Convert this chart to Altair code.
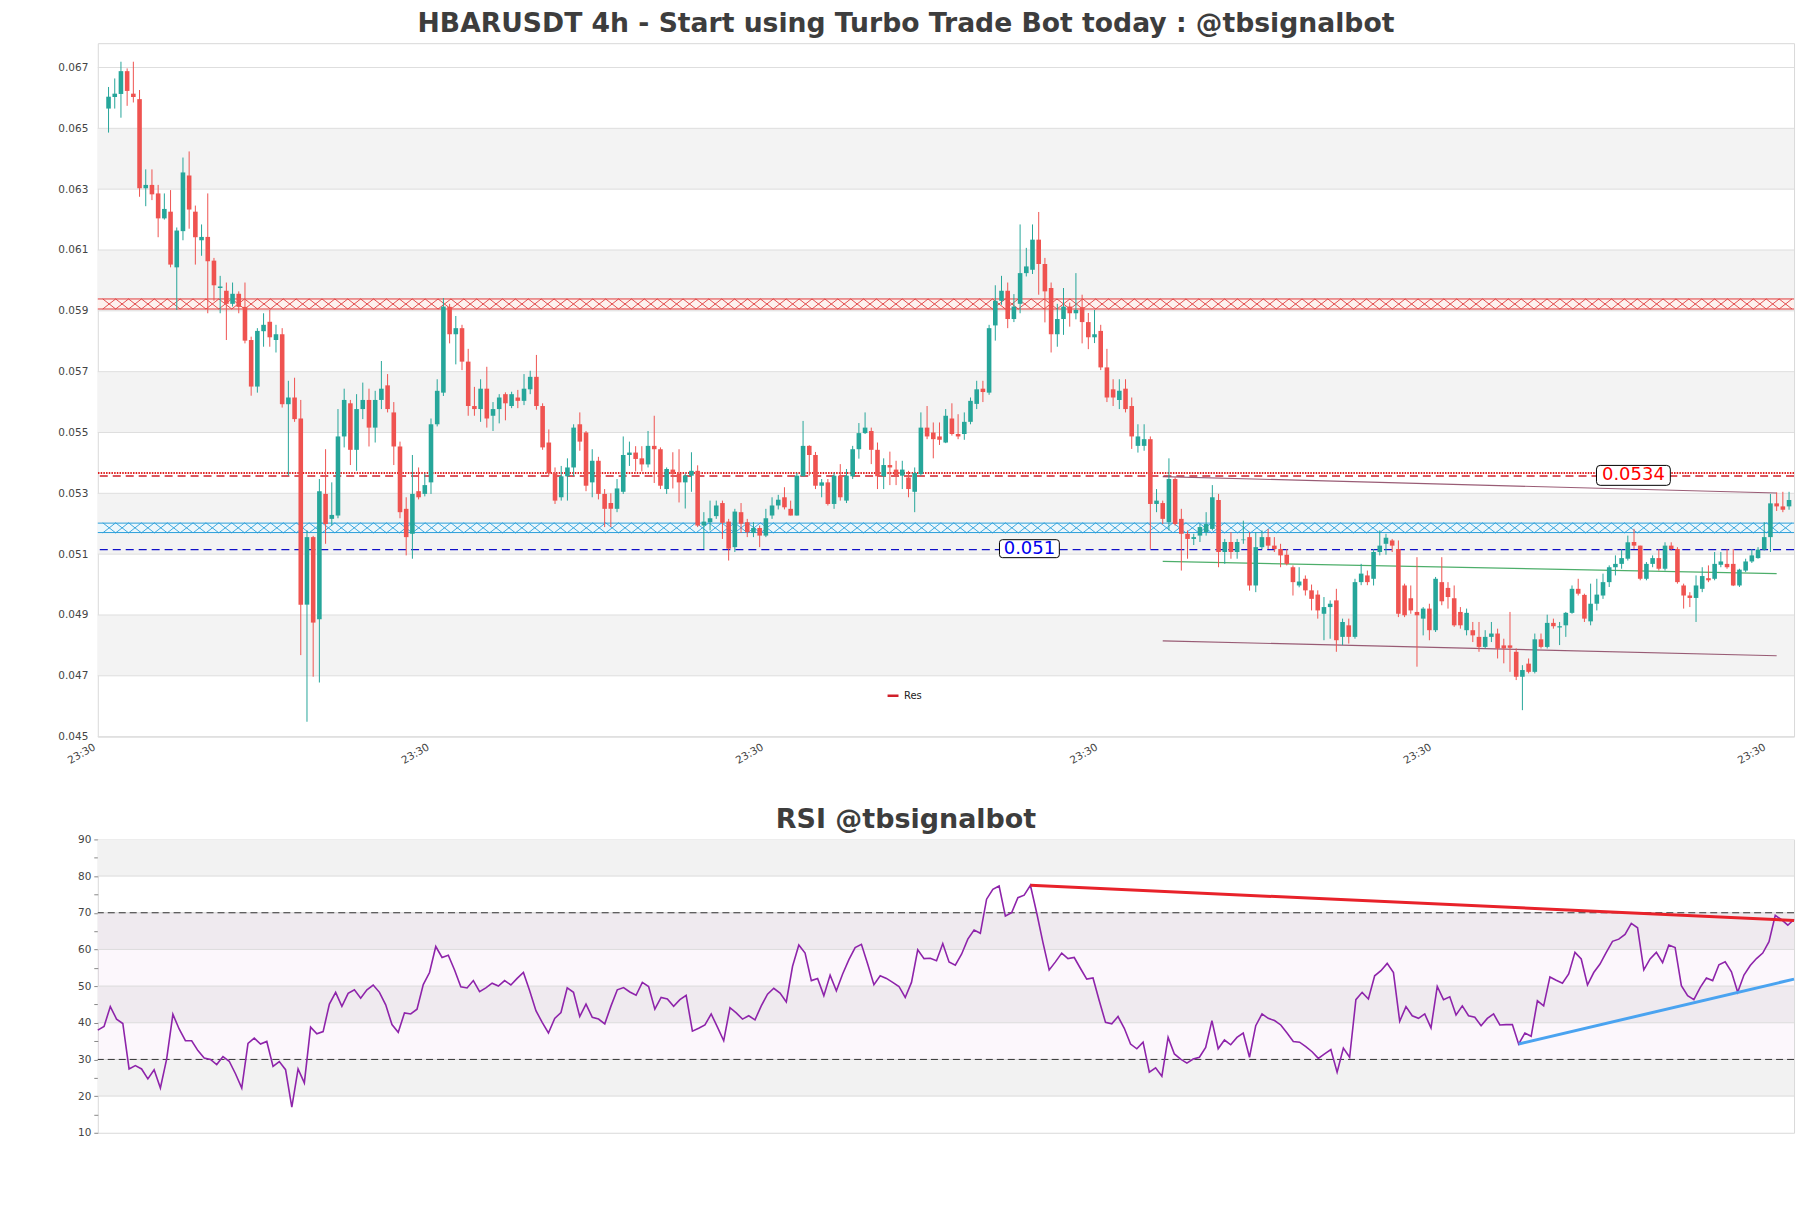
import altair as alt
import pandas as pd
import numpy as np

TITLE = "HBARUSDT 4h - Start using Turbo Trade Bot today : @tbsignalbot"
RSI_TITLE = "RSI @tbsignalbot"

opens = [
0.06565,0.06603,0.06613,0.06688,0.06614,0.06596,0.06303,0.06314,0.06286,0.06204,
0.06226,0.06043,0.06162,0.06345,0.06226,0.06132,0.06143,0.06065,0.05975,0.05966,
0.05923,0.05956,0.05913,0.05804,0.05651,0.05833,0.05864,0.05804,0.05823,0.05593,
0.05615,0.05546,0.04934,0.05156,0.04886,0.05298,0.05216,0.05227,0.05487,0.05596,
0.05443,0.05577,0.05607,0.05516,0.05607,0.05655,0.05566,0.05454,0.05249,0.05167,
0.05307,0.05298,0.05336,0.05527,0.05631,0.05913,0.05823,0.05843,0.05733,0.05587,
0.05577,0.05644,0.05555,0.05577,0.05626,0.05587,0.05615,0.05604,0.05642,0.05683,
0.05587,0.05467,0.05366,0.05287,0.05356,0.05385,0.05527,0.05500,0.05336,0.05407,
0.05298,0.05268,0.05249,0.05305,0.05426,0.05434,0.05415,0.05395,0.05456,0.05445,
0.05314,0.05378,0.05365,0.05336,0.05358,0.05374,0.05194,0.05205,0.05225,0.05268,
0.05207,0.05123,0.05238,0.05205,0.05170,0.05186,0.05161,0.05227,0.05260,0.05287,
0.05249,0.05227,0.05356,0.05456,0.05426,0.05325,0.05336,0.05265,0.05358,0.05276,
0.05356,0.05445,0.05498,0.05505,0.05443,0.05356,0.05393,0.05378,0.05358,0.05352,
0.05305,0.05363,0.05516,0.05500,0.05487,0.05467,0.05546,0.05495,0.05495,0.05535,
0.05594,0.05644,0.05631,0.05852,0.05933,0.05966,0.05873,0.05923,0.06024,0.06035,
0.06134,0.06054,0.05975,0.05823,0.05873,0.05914,0.05892,0.05912,0.05863,0.05813,
0.05834,0.05714,0.05642,0.05607,0.05644,0.05587,0.05456,0.05456,0.05478,0.05265,
0.05268,0.05205,0.05347,0.05216,0.05167,0.05150,0.05161,0.05172,0.05183,0.05278,
0.05107,0.05140,0.05107,0.05146,0.05156,0.04997,0.05123,0.05156,0.05128,0.05117,
0.05098,0.05057,0.04997,0.05019,0.04981,0.04967,0.04904,0.04926,0.04948,0.04828,
0.04866,0.04828,0.05008,0.05030,0.05019,0.05107,0.05134,0.05145,0.05117,0.04997,
0.04955,0.04910,0.04888,0.04921,0.04850,0.05008,0.04989,0.04955,0.04910,0.04850,
0.04850,0.04828,0.04795,0.04828,0.04839,0.04800,0.04800,0.04779,0.04697,0.04740,
0.04713,0.04820,0.04795,0.04874,0.04859,0.04866,0.04907,0.04986,0.04966,0.04879,
0.04937,0.04964,0.05008,0.05057,0.05068,0.05085,0.05140,0.05128,0.05019,0.05068,
0.05087,0.05052,0.05128,0.05117,0.04997,0.04964,0.04956,0.04986,0.05021,0.05019,
0.05065,0.05068,0.05068,0.04997,0.05046,0.05076,0.05087,0.05115,0.05156,0.05267,
0.05257,0.05257]

highs = [
0.06636,0.06664,0.06719,0.06697,0.06719,0.06626,0.06365,0.06365,0.06314,0.06286,
0.06297,0.06174,0.06404,0.06424,0.06246,0.06184,0.06286,0.06074,0.06015,0.05993,
0.05993,0.05964,0.05993,0.05815,0.05843,0.05892,0.05903,0.05854,0.05843,0.05670,
0.05680,0.05607,0.05178,0.05160,0.05347,0.05445,0.05336,0.05577,0.05644,0.05607,
0.05626,0.05664,0.05644,0.05637,0.05735,0.05692,0.05600,0.05470,0.05287,0.05426,
0.05385,0.05365,0.05546,0.05675,0.05942,0.05923,0.05883,0.05854,0.05775,0.05650,
0.05675,0.05716,0.05600,0.05626,0.05632,0.05634,0.05640,0.05692,0.05703,0.05755,
0.05596,0.05510,0.05385,0.05390,0.05415,0.05527,0.05566,0.05505,0.05445,0.05420,
0.05314,0.05300,0.05347,0.05487,0.05470,0.05455,0.05455,0.05505,0.05555,0.05451,
0.05385,0.05435,0.05445,0.05365,0.05435,0.05392,0.05238,0.05276,0.05276,0.05276,
0.05216,0.05249,0.05268,0.05216,0.05205,0.05194,0.05249,0.05287,0.05295,0.05320,
0.05276,0.05367,0.05538,0.05458,0.05436,0.05347,0.05347,0.05367,0.05396,0.05380,
0.05456,0.05531,0.05566,0.05516,0.05467,0.05415,0.05437,0.05407,0.05407,0.05374,
0.05385,0.05566,0.05587,0.05533,0.05533,0.05577,0.05596,0.05560,0.05566,0.05615,
0.05670,0.05670,0.05854,0.05984,0.06015,0.05993,0.05955,0.06184,0.06107,0.06184,
0.06225,0.06074,0.05993,0.05923,0.05975,0.05927,0.06024,0.05953,0.05893,0.05903,
0.05854,0.05775,0.05675,0.05675,0.05675,0.05615,0.05527,0.05527,0.05487,0.05314,
0.05276,0.05415,0.05352,0.05249,0.05178,0.05167,0.05200,0.05238,0.05327,0.05298,
0.05150,0.05172,0.05150,0.05210,0.05172,0.05172,0.05178,0.05183,0.05156,0.05134,
0.05117,0.05063,0.05057,0.05030,0.05000,0.04981,0.04959,0.04948,0.04986,0.04888,
0.04888,0.05019,0.05068,0.05046,0.05117,0.05178,0.05167,0.05150,0.05145,0.05003,
0.04997,0.05090,0.04926,0.04937,0.05025,0.05090,0.05008,0.04997,0.04926,0.04921,
0.04877,0.04877,0.04850,0.04877,0.04855,0.04822,0.04910,0.04790,0.04735,0.04757,
0.04839,0.04839,0.04901,0.04888,0.04877,0.04910,0.04997,0.05019,0.04970,0.05003,
0.05019,0.05036,0.05063,0.05096,0.05117,0.05161,0.05183,0.05128,0.05074,0.05096,
0.05117,0.05139,0.05139,0.05123,0.05003,0.04975,0.05030,0.05057,0.05063,0.05107,
0.05107,0.05117,0.05117,0.05052,0.05085,0.05117,0.05123,0.05205,0.05298,0.05303,
0.05305,0.05305]

lows = [
0.06486,0.06565,0.06535,0.06574,0.06585,0.06275,0.06244,0.06264,0.06142,0.06200,
0.06043,0.05903,0.06132,0.06170,0.06052,0.06081,0.05892,0.05933,0.05892,0.05804,
0.05914,0.05892,0.05793,0.05621,0.05631,0.05782,0.05782,0.05763,0.05582,0.05358,
0.05535,0.04768,0.04549,0.04697,0.04678,0.05134,0.05194,0.05218,0.05451,0.05393,
0.05374,0.05544,0.05454,0.05467,0.05577,0.05566,0.05393,0.05218,0.05096,0.05085,
0.05280,0.05290,0.05298,0.05520,0.05620,0.05793,0.05724,0.05705,0.05555,0.05555,
0.05535,0.05516,0.05505,0.05530,0.05540,0.05580,0.05580,0.05590,0.05626,0.05575,
0.05443,0.05356,0.05265,0.05276,0.05276,0.05356,0.05440,0.05307,0.05287,0.05280,
0.05189,0.05189,0.05238,0.05298,0.05390,0.05372,0.05372,0.05385,0.05334,0.05314,
0.05298,0.05316,0.05270,0.05250,0.05305,0.05189,0.05117,0.05178,0.05216,0.05150,
0.05079,0.05107,0.05170,0.05156,0.05156,0.05123,0.05156,0.05216,0.05247,0.05247,
0.05227,0.05227,0.05356,0.05358,0.05314,0.05287,0.05260,0.05249,0.05276,0.05268,
0.05347,0.05414,0.05495,0.05396,0.05314,0.05314,0.05327,0.05327,0.05314,0.05287,
0.05238,0.05358,0.05478,0.05415,0.05459,0.05465,0.05490,0.05478,0.05476,0.05527,
0.05577,0.05600,0.05624,0.05802,0.05920,0.05843,0.05863,0.05892,0.06013,0.06021,
0.05953,0.05862,0.05763,0.05782,0.05821,0.05848,0.05872,0.05793,0.05774,0.05794,
0.05705,0.05600,0.05587,0.05577,0.05566,0.05446,0.05434,0.05440,0.05117,0.05238,
0.05199,0.05178,0.05194,0.05046,0.05085,0.05130,0.05140,0.05161,0.05178,0.05057,
0.05068,0.05085,0.05085,0.05134,0.04980,0.04975,0.05117,0.05117,0.05107,0.05057,
0.05063,0.04964,0.04991,0.04964,0.04915,0.04888,0.04817,0.04822,0.04779,0.04801,
0.04806,0.04822,0.04998,0.04998,0.04997,0.05096,0.05098,0.05107,0.04893,0.04893,
0.04904,0.04730,0.04833,0.04817,0.04844,0.04932,0.04921,0.04861,0.04855,0.04833,
0.04811,0.04779,0.04790,0.04811,0.04757,0.04741,0.04713,0.04686,0.04587,0.04708,
0.04708,0.04790,0.04790,0.04855,0.04801,0.04828,0.04904,0.04964,0.04877,0.04866,
0.04915,0.04953,0.04992,0.05030,0.05052,0.05079,0.05117,0.05014,0.05014,0.05057,
0.05046,0.05046,0.05112,0.05003,0.04921,0.04926,0.04877,0.04975,0.05008,0.05014,
0.05057,0.05052,0.04995,0.04992,0.05041,0.05071,0.05085,0.05112,0.05107,0.05242,
0.05238,0.05246]

closes = [
0.06604,0.06614,0.06688,0.06623,0.06603,0.06303,0.06314,0.06283,0.06204,0.06235,
0.06052,0.06164,0.06355,0.06233,0.06142,0.06143,0.06063,0.05984,0.05980,0.05923,
0.05956,0.05913,0.05802,0.05651,0.05834,0.05854,0.05813,0.05823,0.05593,0.05615,
0.05544,0.04934,0.05156,0.04875,0.05307,0.05199,0.05229,0.05487,0.05607,0.05443,
0.05577,0.05607,0.05516,0.05607,0.05644,0.05577,0.05454,0.05238,0.05156,0.05298,
0.05287,0.05327,0.05527,0.05637,0.05914,0.05823,0.05843,0.05733,0.05587,0.05577,
0.05644,0.05546,0.05577,0.05615,0.05596,0.05626,0.05604,0.05644,0.05683,0.05587,
0.05451,0.05366,0.05276,0.05356,0.05385,0.05516,0.05470,0.05325,0.05407,0.05298,
0.05249,0.05249,0.05316,0.05426,0.05434,0.05413,0.05395,0.05456,0.05445,0.05325,
0.05380,0.05363,0.05336,0.05358,0.05374,0.05194,0.05207,0.05218,0.05260,0.05203,
0.05118,0.05240,0.05200,0.05172,0.05186,0.05161,0.05218,0.05260,0.05279,0.05254,
0.05227,0.05358,0.05456,0.05426,0.05325,0.05336,0.05265,0.05358,0.05287,0.05358,
0.05445,0.05498,0.05516,0.05443,0.05356,0.05393,0.05385,0.05358,0.05378,0.05314,
0.05367,0.05516,0.05487,0.05478,0.05476,0.05555,0.05495,0.05487,0.05535,0.05604,
0.05642,0.05633,0.05843,0.05933,0.05966,0.05873,0.05914,0.06024,0.06046,0.06134,
0.06054,0.05964,0.05823,0.05873,0.05914,0.05892,0.05903,0.05863,0.05813,0.05823,
0.05714,0.05615,0.05615,0.05637,0.05577,0.05487,0.05487,0.05478,0.05265,0.05276,
0.05216,0.05347,0.05199,0.05167,0.05150,0.05156,0.05189,0.05199,0.05287,0.05107,
0.05140,0.05107,0.05140,0.05148,0.04997,0.05123,0.05156,0.05128,0.05117,0.05096,
0.05068,0.05008,0.05010,0.04981,0.04953,0.04915,0.04926,0.04937,0.04817,0.04877,
0.04828,0.05008,0.05036,0.05008,0.05107,0.05128,0.05154,0.05128,0.04904,0.04899,
0.04915,0.04899,0.04921,0.04850,0.05019,0.04945,0.04959,0.04866,0.04866,0.04907,
0.04833,0.04795,0.04828,0.04839,0.04790,0.04790,0.04792,0.04697,0.04719,0.04713,
0.04820,0.04795,0.04874,0.04863,0.04863,0.04907,0.04986,0.04970,0.04888,0.04937,
0.04967,0.05008,0.05057,0.05068,0.05087,0.05139,0.05128,0.05019,0.05068,0.05087,
0.05052,0.05128,0.05117,0.05008,0.04964,0.04956,0.04997,0.05028,0.05014,0.05068,
0.05076,0.05057,0.04997,0.05049,0.05076,0.05096,0.05115,0.05156,0.05267,0.05257,
0.05246,0.05278]

rsi_values = [
38, 39, 44.4, 41, 39.8, 27.4, 28.3, 27.4, 24.7, 27.2,
22.2, 30.1, 42.3, 38.3, 35.1, 35.1, 32.4, 30.4, 30, 28.6,
30.8, 29.5, 26.1, 22.2, 34.4, 35.8, 34.2, 34.9, 28.1, 29.4,
27.2, 17, 27.4, 23.6, 38.8, 37, 37.6, 45.1, 48.3, 44.5,
48, 49, 46.7, 49, 50.3, 48.3, 44.9, 39.5, 37.4, 42.7,
42.4, 43.7, 50.4, 53.7, 60.8, 57.8, 58.4, 54.4, 49.8, 49.5,
51.5, 48.5, 49.5, 50.8, 50, 51.5, 50.3, 52.1, 53.7, 48.7,
43.3, 40.1, 37.2, 41.2, 42.8, 49.5, 48.3, 41.7, 45.1, 41.5,
41,
39.7, 44.6, 49, 49.6, 48.4, 47.5, 51, 49.9, 43.7, 46.9,
46.5, 44.5, 46.3, 47.5, 37.7, 38.5, 39.4, 42.4, 38.8, 35.1,
44.1, 42.7, 41, 41.9, 40.8, 44.6, 47.8, 49.4, 48.1, 45.7,
55.4, 61.2, 59, 51.5, 52.1, 47.4, 53, 48.7, 53.3, 57.2,
60.5, 61.4, 56, 50.4, 52.8, 52.1, 51, 49.9, 46.9, 51,
59.9, 57.5, 57.6, 56.9, 61.6, 56.6, 55.7, 58.7, 62.8, 65.3,
64.4, 73.7, 76.4, 77.3, 69.1, 70, 74.1, 74.8, 77.5, 70,
61.9, 54.4, 56.6, 59, 57.5, 57.8, 54.8, 51.9, 52.2, 46,
40.1, 39.7, 41.7, 38.5, 34.2, 32.9, 34.7, 26.5, 27.7, 25.4,
36, 31.5, 30.1, 29, 30.1,
30.6, 33.3, 40.6, 32.9, 35.3, 34, 36, 37.2, 30.6, 39.2,
42.4, 41.2, 40.6, 39.4, 37.2, 34.9, 34.7, 33.5, 32.1, 30.3,
31.5, 32.7, 26.5, 33.1, 30.6, 46.3, 48.3, 46.5, 52.8, 54.2,
56.2, 53.7, 40.4, 44.4, 41.9, 41.2, 42.4, 38.6, 49.9, 46.3,
47.1, 42.1, 44.6, 41.9, 41.5, 39.2, 41.2, 42.4, 39.4, 39.5,
39.5, 34.2, 37.2, 36.3, 46, 44.6, 52.5, 51.6, 50.8, 53.3,
59.2, 57.4, 50.3, 53.7, 56, 59.2, 62.2, 62.8, 64.1, 67.1,
65.9, 54.4, 57.4, 59.2, 56.4, 61.2, 60.5, 50.1, 47.4, 46.3,
49.6, 52.2, 51.5, 55.8, 56.6, 53.9, 48.3, 53, 55.6, 57.5,
59, 62.1, 69.3, 68.1, 66.6, 68.2]

# axis / level values
x_ticks = [-0.93, 52.9, 106.8, 160.7, 214.5, 268.4]
x_tick_text = "23:30"
price_ticks = [0.045, 0.047, 0.049, 0.051, 0.053, 0.055, 0.057, 0.059, 0.061, 0.063, 0.065, 0.067]
price_band_lo = [0.047, 0.051, 0.055, 0.059, 0.063]
price_band_hi = [0.049, 0.053, 0.057, 0.061, 0.065]
res_zone = [0.05906, 0.05939]
sup_zone = [0.05171, 0.05202]
res_dotted = 0.05367
res_level = 0.05357
sup_level = 0.05115
res_label = "0.0534"
sup_label = "0.051"
res_label_pos = [245.9, 0.05359]
sup_label_pos = [148.5, 0.05118]
trend_names = ["upper", "upper", "mid", "mid", "lower", "lower"]
trend_i = [170, 269, 170, 269, 170, 269]
trend_v = [0.05355, 0.05301, 0.05076, 0.05036, 0.04815, 0.04766]
trend_colors = ["#8e4a66", "#3aa55a", "#8e4a66"]

rsi_ticks = list(range(10, 95, 5))
rsi_band_lo = [80, 60, 40, 20]
rsi_band_hi = [90, 70, 50, 30]
rsi_grid = [20, 30, 40, 50, 60, 70, 80]
rsi_levels = [30, 70]
rsi_down_i = [149, 271]
rsi_down_v = [77.5, 67.9]
rsi_up_i = [227, 271]
rsi_up_v = [34.2, 51.9]

N = len(closes)
X_DOMAIN = [-0.93, 271.0]
Y_DOMAIN = [0.045, 0.0678]
W, H_MAIN, H_RSI = 1700, 695, 294
FONT = "DejaVu Sans"
TITLE_DX = -40

candles = pd.DataFrame({"i": np.arange(N), "open": opens, "high": highs,
                        "low": lows, "close": closes})

xs = alt.Scale(domain=X_DOMAIN, nice=False, zero=False)
ys = alt.Scale(domain=Y_DOMAIN, nice=False, zero=False)
x_axis = alt.Axis(values=x_ticks, labelExpr="'" + x_tick_text + "'", labelAngle=-30,
                  labelAlign="right", labelBaseline="top", labelFontSize=10.5,
                  labelColor="#444", ticks=False, domain=False, grid=False,
                  labelFlush=False, labelPadding=5, labelOffset=-11, labelFont=FONT,
                  title=None)
y_axis = alt.Axis(values=price_ticks, format=".3f", labelFontSize=10.5, labelColor="#444",
                  ticks=False, domain=False, grid=False, labelPadding=10,
                  minExtent=40, maxExtent=40, labelFont=FONT, title=None)


def X(f):
    return alt.X(f, type="quantitative", scale=xs, axis=x_axis, title=None)


def Y(f):
    return alt.Y(f, type="quantitative", scale=ys, axis=y_axis, title=None)


bands = alt.Chart(pd.DataFrame({"lo": price_band_lo, "hi": price_band_hi})).mark_rect(
    color="#f3f3f3").encode(x=alt.value(0), x2=alt.value(W), y=Y("lo"), y2="hi")
grid = alt.Chart(pd.DataFrame({"v": price_ticks})).mark_rule(
    color="#dedede", strokeWidth=1).encode(y=Y("v"))

xpath = "M-1,-0.78L1,0.78M-1,0.78L1,-0.78"
step = 13.0 / (W / (X_DOMAIN[1] - X_DOMAIN[0]))
pat_i = np.arange(X_DOMAIN[0] + step / 2, X_DOMAIN[1], step)


def zone(lo, hi, fill, stroke):
    mid = (lo + hi) / 2
    r = alt.Chart(pd.DataFrame({"lo": [lo], "hi": [hi]})).mark_rect(
        color=fill).encode(x=alt.value(0), x2=alt.value(W), y=Y("lo"), y2="hi")
    p = alt.Chart(pd.DataFrame({"i": pat_i, "v": mid})).mark_point(
        shape=xpath, size=169, filled=False, stroke=stroke, strokeWidth=0.9,
        opacity=1, clip=True).encode(x=X("i"), y=Y("v"))
    e = alt.Chart(pd.DataFrame({"v": [lo, hi]})).mark_rule(
        color=stroke, strokeWidth=1).encode(y=Y("v"))
    return [r, p, e]


res_layers = zone(res_zone[0], res_zone[1], "#fdf1ee", "#e03a3a")
sup_layers = zone(sup_zone[0], sup_zone[1], "#ecf7fc", "#2a9fda")

res_dot = alt.Chart(pd.DataFrame({"v": [res_dotted]})).mark_rule(
    color="#e02020", strokeWidth=2, strokeDash=[1.5, 1.2]).encode(y=Y("v"))
res_line = alt.Chart(pd.DataFrame({"v": [res_level], "name": ["Res"]})).mark_rule(
    strokeWidth=1.3, strokeDash=[8, 5]).encode(
    y=Y("v"),
    color=alt.Color("name:N", scale=alt.Scale(domain=["Res"], range=["#d0202a"]),
                    legend=alt.Legend(orient="none", legendX=790, legendY=647, title=None,
                                      symbolType="stroke", symbolDash=[1, 0],
                                      symbolStrokeWidth=2.5, symbolSize=120,
                                      labelFontSize=10, labelColor="#222", labelFont=FONT)))
sup_line = alt.Chart(pd.DataFrame({"v": [sup_level]})).mark_rule(
    color="#1010c8", strokeWidth=1.3, strokeDash=[8, 5]).encode(y=Y("v"))

trend = alt.Chart(pd.DataFrame({"name": trend_names, "i": trend_i, "v": trend_v})).mark_line(
    strokeWidth=1.2, opacity=0.9).encode(
    x=X("i"), y=Y("v"), detail="name:N",
    stroke=alt.Stroke("name:N", scale=alt.Scale(domain=["upper", "mid", "lower"],
                                                range=trend_colors), legend=None))

up_cond = "datum.close >= datum.open"
wicks = alt.Chart(candles).mark_rule(strokeWidth=1).encode(
    x=X("i"), y=Y("low"), y2="high",
    color=alt.condition(up_cond, alt.value("#26a69a"), alt.value("#ef5350")))
bodies = alt.Chart(candles).mark_bar(size=4.6).encode(
    x=X("i"), y=Y("open"), y2="close",
    color=alt.condition(up_cond, alt.value("#26a69a"), alt.value("#ef5350")))


def rounded(ratio):
    a = ratio
    c = 0.1
    return (f"M{-1+c},{-a} L{1-c},{-a} Q1,{-a} 1,{-a+c} L1,{a-c} Q1,{a} {1-c},{a} "
            f"L{-1+c},{a} Q-1,{a} -1,{a-c} L-1,{-a+c} Q-1,{-a} {-1+c},{-a} Z")


lab_df = pd.DataFrame({"i": [res_label_pos[0]], "v": [res_label_pos[1]], "t": [res_label]})
lab2_df = pd.DataFrame({"i": [sup_label_pos[0]], "v": [sup_label_pos[1]], "t": [sup_label]})
box1 = alt.Chart(lab_df).mark_point(shape=rounded(0.27), size=74 * 74, filled=True,
                                     fill="white", stroke="black", strokeWidth=1, opacity=1
                                     ).encode(x=X("i"), y=Y("v"))
txt1 = alt.Chart(lab_df).mark_text(fontSize=18, color="#ff0000", font=FONT).encode(
    x=X("i"), y=Y("v"), text="t:N")
box2 = alt.Chart(lab2_df).mark_point(shape=rounded(0.3), size=60 * 60, filled=True,
                                      fill="white", stroke="black", strokeWidth=1, opacity=1
                                      ).encode(x=X("i"), y=Y("v"))
txt2 = alt.Chart(lab2_df).mark_text(fontSize=18, color="#0000ee", font=FONT).encode(
    x=X("i"), y=Y("v"), text="t:N")

main = alt.layer(bands, grid, *res_layers, *sup_layers, res_dot, res_line, sup_line, trend,
                 wicks, bodies, box1, txt1, box2, txt2).properties(
    width=W, height=H_MAIN,
    title=alt.TitleParams(TITLE, fontSize=26.7, font=FONT, fontWeight="bold", color="#3d3d3d",
                          anchor="middle", offset=5, dx=TITLE_DX))

# RSI panel
rxs = alt.Scale(domain=[0, N - 1], nice=False, zero=False)
rys = alt.Scale(domain=[10, 90], nice=False, zero=False)
r_axis = alt.Axis(values=rsi_ticks, labelExpr="datum.value % 10 == 0 ? datum.label : ''",
                  labelFontSize=10.5, labelColor="#444", tickColor="#888", tickSize=4,
                  domain=False, grid=False, labelPadding=3, minExtent=40, maxExtent=40,
                  labelFont=FONT, title=None)


def RX(f):
    return alt.X(f, type="quantitative", scale=rxs, axis=None, title=None)


def RY(f):
    return alt.Y(f, type="quantitative", scale=rys, axis=r_axis, title=None)


rbands = alt.Chart(pd.DataFrame({"lo": rsi_band_lo, "hi": rsi_band_hi})).mark_rect(
    color="#f2f2f2").encode(x=alt.value(0), x2=alt.value(W), y=RY("lo"), y2="hi")
rzone = alt.Chart(pd.DataFrame({"lo": [30], "hi": [70]})).mark_rect(
    color="#9c27b0", opacity=0.035).encode(x=alt.value(0), x2=alt.value(W), y=RY("lo"), y2="hi")
rgrid = alt.Chart(pd.DataFrame({"v": rsi_grid})).mark_rule(
    color="#dcdcdc", strokeWidth=1).encode(y=RY("v"))
rlevels = alt.Chart(pd.DataFrame({"v": rsi_levels})).mark_rule(
    color="#333", strokeWidth=1, strokeDash=[7, 4]).encode(y=RY("v"))
rline = alt.Chart(pd.DataFrame({"i": np.arange(N), "rsi": rsi_values})).mark_line(
    color="#8e24aa", strokeWidth=1.6).encode(x=RX("i"), y=RY("rsi"))
rdown = alt.Chart(pd.DataFrame({"i": rsi_down_i, "v": rsi_down_v})).mark_line(
    color="#e8222a", strokeWidth=3).encode(x=RX("i"), y=RY("v"))
rup = alt.Chart(pd.DataFrame({"i": rsi_up_i, "v": rsi_up_v})).mark_line(
    color="#4aa3f0", strokeWidth=3).encode(x=RX("i"), y=RY("v"))

rsi_chart = alt.layer(rbands, rzone, rgrid, rlevels, rline, rdown, rup).properties(
    width=W, height=H_RSI,
    title=alt.TitleParams(RSI_TITLE, fontSize=27, font=FONT, fontWeight="bold",
                          color="#3d3d3d", anchor="middle", offset=0, dx=TITLE_DX))

chart = alt.vconcat(main, rsi_chart, spacing=39).resolve_scale(
    color="independent", stroke="independent").resolve_legend(
    color="independent").properties(
    padding={"left": 57, "top": 9, "right": 10, "bottom": 10},
    background="white").configure_view(stroke="#d9d9d9", strokeWidth=1)

chart.save("out.html", embed_options={"renderer": "svg", "actions": False})
